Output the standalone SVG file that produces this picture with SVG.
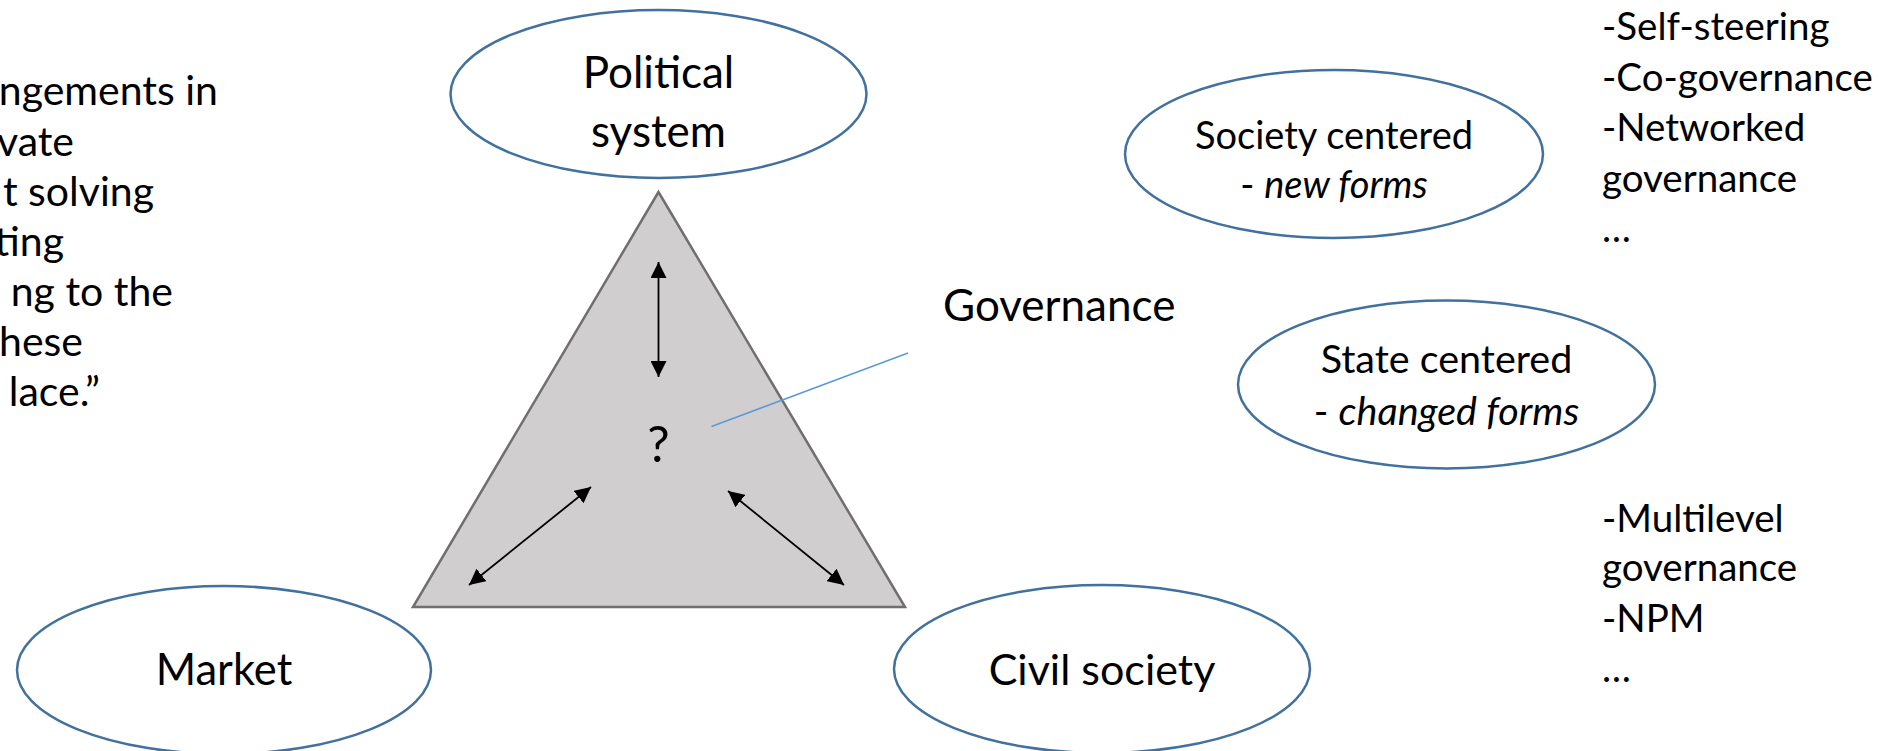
<svg xmlns="http://www.w3.org/2000/svg" width="1895" height="751" viewBox="0 0 1895 751">
  <style>
    .t { font-family: Lato, "Open Sans", "Liberation Sans", sans-serif; fill: #000; }
    .ell { fill: #fff; stroke: #41719c; stroke-width: 2.5; }
    .arr { stroke: #000; stroke-width: 1.8; fill: none; marker-start: url(#ah); marker-end: url(#ah); }
  </style>
  <defs>
    <marker id="ah" viewBox="0 0 10 10" markerUnits="userSpaceOnUse" markerWidth="16" markerHeight="16" refX="10" refY="5" orient="auto-start-reverse">
      <path d="M0,0 L10,5 L0,10 z" fill="#000"/>
    </marker>
  </defs>
  <rect width="1895" height="751" fill="#fff"/>

  <g id="quote-text" class="t" font-size="41" text-anchor="end">
    <text x="218" y="105">ngements in</text>
    <text x="74" y="156">vate</text>
    <text x="154" y="206">t solving</text>
    <text x="64" y="256">ting</text>
    <text x="173" y="306">ng to the</text>
    <text x="83" y="356">hese</text>
    <text x="100" y="406">lace.”</text>
  </g>

  <g id="triangle">
    <polygon points="658.5,192 413,607 905,607" fill="#d0cecf" stroke="#706e6e" stroke-width="2.5"/>
    <text class="t" x="658.5" y="462" font-size="50" text-anchor="middle">?</text>
  </g>

  <g id="connectors">
    <line class="arr" x1="658.5" y1="262" x2="658.5" y2="377"/>
    <line class="arr" x1="469" y1="585" x2="591" y2="487"/>
    <line class="arr" x1="728" y1="491" x2="844" y2="585"/>
    <line x1="711.5" y1="426.5" x2="908" y2="353" stroke="#5b9bd5" stroke-width="1.5"/>
  </g>

  <g id="political-system">
    <ellipse class="ell" cx="658.5" cy="94" rx="208" ry="84"/>
    <text class="t" font-size="44" text-anchor="middle"><tspan x="658.5" y="88">Political</tspan><tspan x="658.5" y="147">system</tspan></text>
  </g>

  <g id="market">
    <ellipse class="ell" cx="224" cy="670" rx="207" ry="84"/>
    <text class="t" x="224" y="685" font-size="43.5" text-anchor="middle">Market</text>
  </g>

  <g id="civil-society">
    <ellipse class="ell" cx="1102" cy="669" rx="208" ry="84"/>
    <text class="t" x="1102" y="685" font-size="43" text-anchor="middle">Civil society</text>
  </g>

  <g id="governance">
    <text class="t" x="943" y="321" font-size="44">Governance</text>
  </g>

  <g id="society-centered">
    <ellipse class="ell" cx="1334" cy="154" rx="209" ry="84"/>
    <text class="t" font-size="38" text-anchor="middle"><tspan x="1334" y="149">Society centered</tspan><tspan x="1334" y="198">- <tspan font-style="italic">new forms</tspan></tspan></text>
  </g>

  <g id="state-centered">
    <ellipse class="ell" cx="1446.5" cy="384.5" rx="208.5" ry="84"/>
    <text class="t" font-size="39.5" text-anchor="middle"><tspan x="1446.5" y="373">State centered</tspan><tspan x="1446.5" y="425">- <tspan font-style="italic">changed forms</tspan></tspan></text>
  </g>

  <g id="society-list" class="t" font-size="38.5">
    <text x="1602" y="40">-Self-steering</text>
    <text x="1602" y="90.5">-Co-governance</text>
    <text x="1602" y="141">-Networked</text>
    <text x="1602" y="191.5">governance</text>
    <text x="1602" y="242">…</text>
  </g>

  <g id="state-list" class="t" font-size="38.5">
    <text x="1602" y="531.5">-Multilevel</text>
    <text x="1602" y="581">governance</text>
    <text x="1602" y="631.5">-NPM</text>
    <text x="1602" y="682">…</text>
  </g>
</svg>
